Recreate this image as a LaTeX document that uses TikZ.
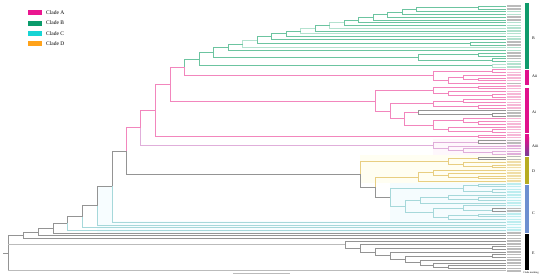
\documentclass[tikz,border=0pt]{standalone}
\usepackage{fontspec}
\setmainfont{Liberation Serif}
\begin{document}
\definecolor{bgr}{HTML}{6CC4A0}
\definecolor{bgrl}{HTML}{B4E2CF}
\definecolor{pkc}{HTML}{F286BD}
\definecolor{pkl}{HTML}{F6B8D7}
\definecolor{lil}{HTML}{E0AEDA}
\definecolor{dyl}{HTML}{E8CE82}
\definecolor{dyll}{HTML}{F0DEA8}
\definecolor{cyc}{HTML}{A6D8DA}
\definecolor{cyl}{HTML}{BDEDEF}
\definecolor{grc}{HTML}{949494}
\definecolor{grl}{HTML}{BBBBBB}
\definecolor{barB}{HTML}{0F9B6B}
\definecolor{barA}{HTML}{E0118C}
\definecolor{barP}{HTML}{7C3D96}
\definecolor{barD}{HTML}{B7AC22}
\definecolor{barC}{HTML}{6E8FD0}
\definecolor{legA}{HTML}{EA1690}
\definecolor{legB}{HTML}{0A9B6B}
\definecolor{legC}{HTML}{17D4D4}
\definecolor{legD}{HTML}{FFA21A}
\newcommand\nd[6]{\draw[#1] (#3,#4) -- (#2,#4) -- (#2,#6) -- (#5,#6);}
\newcommand\lab[2]{\fill[#1] (507,{#2-0.75}) rectangle (521,{#2+0.75});}
\def\tipx{506}
\begin{tikzpicture}[x=1pt,y=-1pt,
  bg/.style={draw=bgr,line width=0.45pt},
  bgl/.style={draw=bgrl,line width=0.45pt},
  pk/.style={draw=pkc,line width=0.5pt},
  li/.style={draw=lil,line width=0.45pt},
  dy/.style={draw=dyl,line width=0.45pt},
  cy/.style={draw=cyc,line width=0.45pt},
  gy/.style={draw=grc,line width=0.45pt},
  gyt/.style={draw=grl,line width=1pt},
  legtxt/.style={anchor=west,font=\fontsize{5.5}{6}\selectfont,inner sep=0pt},
  bartxt/.style={anchor=west,font=\fontsize{4}{5}\selectfont,inner sep=0pt}]
\useasboundingbox (0,0) rectangle (550,276);
\fill[white] (0,0) rectangle (550,276);
% background tints
\fill[cyan!4] (390,182.6) rectangle (522,232.5);
\fill[cyan!3] (97,186.5) rectangle (112,232.5);
\fill[cyan!3] (112,220.5) rectangle (390,232.5);
\fill[yellow!5] (360,155.4) rectangle (522,182.6);
\fill[magenta!3] (433,139) rectangle (522,155.4);
% ---- clade B ----
\nd{bg}{478}{\tipx}{6.00}{\tipx}{8.77}
\nd{bg}{416.5}{478}{7.385}{\tipx}{11.54}
\nd{bg}{402}{416.5}{9.46}{\tipx}{14.31}
\nd{bg}{387.5}{402}{11.89}{\tipx}{17.08}
\nd{bg}{373}{387.5}{14.48}{\tipx}{19.85}
\nd{bg}{358.5}{373}{17.17}{\tipx}{22.62}
\nd{bg}{344}{358.5}{19.89}{\tipx}{25.39}
\nd{bgl}{329.5}{344}{22.64}{\tipx}{28.16}
\nd{bg}{315}{329.5}{25.40}{\tipx}{30.93}
\nd{bgl}{300.5}{315}{28.17}{\tipx}{33.70}
\nd{bg}{286}{300.5}{30.93}{\tipx}{36.47}
\nd{bg}{271.5}{286}{33.70}{\tipx}{39.24}
\nd{bg}{470}{\tipx}{42.01}{\tipx}{44.78}
\nd{bg}{257}{271.5}{36.47}{470}{43.40}
\nd{bgl}{242.5}{257}{39.93}{\tipx}{47.55}
\nd{bg}{228}{242.5}{43.74}{\tipx}{50.32}
\nd{bg}{478}{\tipx}{53.09}{\tipx}{55.86}
\nd{bg}{492}{\tipx}{58.63}{\tipx}{61.40}
\nd{bg}{418}{478}{54.47}{492}{60.01}
\nd{bg}{213.5}{228}{47.03}{418}{57.24}
\nd{bgl}{492}{\tipx}{64.17}{\tipx}{66.94}
\nd{bg}{199}{213.5}{52.14}{492}{65.55}
\draw[bg] (199,58.84) -- (184,58.84) -- (184,67.25);
\draw[pk] (184,67.25) -- (184,75.65) -- (433,75.65);
% ---- clade Aii ----
\nd{pk}{492}{\tipx}{69.70}{\tipx}{72.42}
\nd{pk}{478}{\tipx}{77.86}{\tipx}{80.58}
\nd{pk}{463}{\tipx}{75.14}{478}{79.22}
\nd{pk}{448}{463}{77.18}{\tipx}{83.30}
\nd{pk}{433}{492}{71.06}{448}{80.24}
\nd{pk}{170}{184}{67.25}{375}{100.81}
% ---- clade Ai ----
\nd{pk}{478}{\tipx}{86.02}{\tipx}{88.74}
\nd{pk}{492}{\tipx}{94.18}{\tipx}{96.90}
\nd{pk}{448}{\tipx}{91.46}{492}{95.54}
\nd{pk}{433}{478}{87.38}{448}{93.50}
\nd{pk}{463}{\tipx}{99.62}{\tipx}{102.34}
\nd{pk}{478}{\tipx}{105.06}{\tipx}{107.78}
\nd{pk}{433}{463}{100.98}{478}{106.42}
\nd{gy}{492}{\tipx}{113.22}{\tipx}{115.94}
\nd{gy}{418}{\tipx}{110.50}{492}{114.58}
\nd{pk}{478}{\tipx}{121.38}{\tipx}{124.10}
\nd{pk}{463}{\tipx}{118.66}{478}{122.74}
\nd{pk}{492}{\tipx}{129.54}{\tipx}{132.26}
\nd{pk}{448}{\tipx}{126.82}{492}{130.90}
\nd{pk}{433}{463}{120.70}{448}{128.86}
\nd{pk}{404}{418}{112.54}{433}{124.78}
\nd{pk}{390}{433}{103.70}{404}{118.66}
\nd{pk}{375}{433}{90.44}{390}{111.18}
\nd{pk}{478}{\tipx}{134.98}{\tipx}{137.70}
\nd{pk}{155}{170}{84.03}{478}{136.34}
% ---- clade Aiii ----
\nd{gy}{478}{\tipx}{140.42}{\tipx}{143.14}
\nd{li}{492}{\tipx}{151.30}{\tipx}{154.02}
\nd{li}{463}{\tipx}{148.58}{492}{152.66}
\nd{li}{448}{\tipx}{145.86}{463}{150.62}
\nd{li}{433}{478}{141.78}{448}{148.24}
\draw[pk] (155,110.19) -- (140,110.19) -- (140,127.6);
\draw[li] (140,127.6) -- (140,145.01) -- (433,145.01);
% ---- clade D ----
\nd{gy}{478}{\tipx}{156.74}{\tipx}{159.46}
\nd{dy}{492}{\tipx}{164.90}{\tipx}{167.62}
\nd{dy}{463}{\tipx}{162.18}{492}{166.26}
\nd{dy}{448}{478}{158.10}{463}{164.22}
\nd{dy}{478}{\tipx}{175.78}{\tipx}{178.50}
\nd{dy}{448}{\tipx}{173.06}{478}{177.14}
\nd{dy}{433}{\tipx}{170.34}{448}{175.10}
\nd{dy}{418}{433}{172.72}{\tipx}{181.22}
% ---- clade C ----
\nd{cy}{478}{\tipx}{183.94}{\tipx}{186.66}
\nd{cy}{492}{\tipx}{189.38}{\tipx}{192.10}
\nd{cy}{463}{478}{185.30}{492}{190.74}
\nd{cy}{478}{\tipx}{197.54}{\tipx}{200.26}
\nd{cy}{448}{\tipx}{194.82}{478}{198.90}
\nd{cy}{420}{448}{196.86}{\tipx}{202.98}
\nd{gy}{492}{\tipx}{208.42}{\tipx}{211.14}
\nd{cy}{463}{\tipx}{205.70}{492}{209.78}
\nd{cy}{478}{\tipx}{213.86}{\tipx}{216.58}
\nd{cy}{448}{478}{215.22}{\tipx}{219.30}
\nd{cy}{433}{463}{207.74}{448}{217.26}
\nd{cy}{405}{420}{199.92}{433}{212.50}
\nd{cy}{390}{463}{188.02}{405}{206.21}
\draw[dy] (418,176.97) -- (375,176.97) -- (375,187.04);
\draw[gy] (375,187.04) -- (375,197.12) -- (390,197.12);
\draw[dy] (448,161.16) -- (360,161.16) -- (360,174.1);
\draw[gy] (360,174.1) -- (360,187.04) -- (375,187.04);
% ---- backbone ----
\draw[pk] (140,127.6) -- (126,127.6) -- (126,150.85);
\draw[gy] (126,150.85) -- (126,174.1) -- (360,174.1);
\draw[gy] (126,150.85) -- (112,150.85) -- (112,186.44);
\draw[cy] (112,186.44) -- (112,222.02) -- (\tipx,222.02);
\draw[gy] (112,186.44) -- (97,186.44) -- (97,205.59);
\draw[cy] (97,205.59) -- (97,224.74) -- (\tipx,224.74);
\draw[gy] (97,205.59) -- (82,205.59) -- (82,216.53);
\draw[cy] (82,216.53) -- (82,227.46) -- (\tipx,227.46);
\draw[gy] (82,216.53) -- (67,216.53) -- (67,223.35);
\draw[cy] (67,223.35) -- (67,230.18) -- (\tipx,230.18);
\nd{gy}{53}{67}{223.35}{\tipx}{232.90}
\nd{gy}{38}{53}{228.13}{\tipx}{235.62}
\nd{gy}{23}{38}{231.87}{\tipx}{238.34}
\draw[gy] (23,235.11) -- (8,235.11) -- (8,270.98);
\draw[gyt] (8,270.98) -- (\tipx,270.98);
\draw[gyt] (8,244.41) -- (345,244.41);
\draw[gy] (3,253) -- (8,253);
% ---- clade E ----
\nd{gy}{448}{\tipx}{265.54}{\tipx}{268.26}
\nd{gy}{433}{\tipx}{262.82}{448}{266.90}
\nd{gy}{420}{\tipx}{260.10}{433}{264.86}
\nd{gy}{492}{\tipx}{254.66}{\tipx}{257.38}
\nd{gy}{405}{492}{256.02}{420}{262.48}
\nd{gy}{390}{\tipx}{251.94}{405}{259.25}
\nd{gy}{492}{\tipx}{246.50}{\tipx}{249.22}
\nd{gy}{375}{492}{247.86}{390}{255.60}
\nd{gy}{360}{\tipx}{243.78}{375}{251.73}
\nd{gy}{345}{\tipx}{241.06}{360}{247.76}
% ---- tip label blobs ----
\foreach \k in {0,...,22} {\lab{bgrl}{6+2.77*\k}}
\foreach \k in {0,1,4,5,13,14,17,18,19} {\lab{grl}{6+2.77*\k}}
\foreach \i in {0,...,25} {\lab{pkl}{69.7+2.72*\i}}
\foreach \i in {26,...,31} {\lab{lil}{69.7+2.72*\i}}
\foreach \i in {32,...,41} {\lab{dyll}{69.7+2.72*\i}}
\foreach \i in {42,...,59} {\lab{cyl}{69.7+2.72*\i}}
\foreach \i in {60,...,74} {\lab{grl}{69.7+2.72*\i}}
\foreach \i in {5,15,16,17,26,27,32,33,51,52} {\lab{grl}{69.7+2.72*\i}}
% ---- clade bars ----
\fill[barB] (525,3) rectangle (529,69);
\fill[barA] (525,70) rectangle (529,84.5);
\fill[barA] (525,87.5) rectangle (529,133);
\fill[barA] (525,134) rectangle (529,137.5);
\shade[top color=barA,bottom color=barP] (525,137.5) rectangle (529,155);
\fill[barD] (525,156.5) rectangle (529,183.5);
\fill[barC] (525,185) rectangle (529,232.5);
\fill[black] (525,233.5) rectangle (529,270);
\node[bartxt] (lB) at (532,38) {B};
\node[bartxt] (lAii) at (532,76) {Aii};
\node[bartxt] (lAi) at (532,112) {Ai};
\node[bartxt] (lAiii) at (532,146) {Aiii};
\node[bartxt] (lD) at (532,171) {D};
\node[bartxt] (lC) at (532,213) {C};
\node[bartxt] (lE) at (532,253) {E};
\node[anchor=west,font=\fontsize{2.6}{3}\selectfont,inner sep=0pt] (cm) at (523,272.5) {Clade marking};
% ---- scale bar ----
\draw[grl,line width=0.6pt] (233,273.5) -- (290,273.5);
% ---- legend ----
\fill[legA] (28,10) rectangle (42,14.5);
\fill[legB] (28,20.5) rectangle (42,25.5);
\fill[legC] (28,31) rectangle (42,35.5);
\fill[legD] (28,41) rectangle (42,45.5);
\node[legtxt] (tA) at (46,12.2) {Clade A};
\node[legtxt] (tB) at (46,23) {Clade B};
\node[legtxt] (tC) at (46,33.2) {Clade C};
\node[legtxt] (tD) at (46,43.2) {Clade D};
\end{tikzpicture}
\end{document}
